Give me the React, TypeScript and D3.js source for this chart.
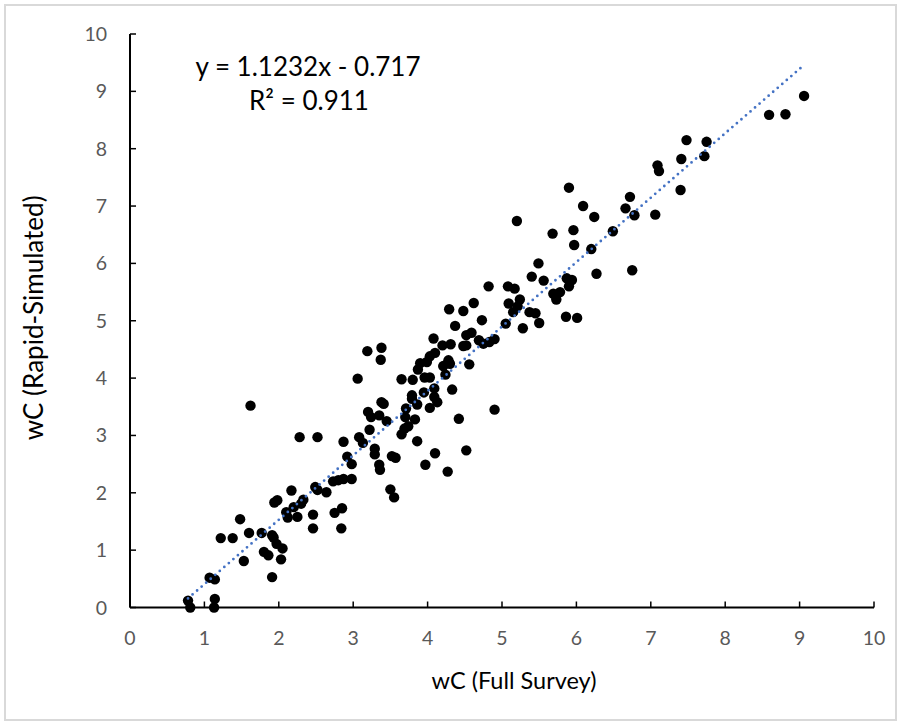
import React from "react";
import * as d3 from "d3";

const fullSurvey: number[] = [
  1.62, 2.28, 2.52, 2.87, 2.92, 2.98, 2.73, 2.8, 2.87, 2.98, 2.85, 2.75, 2.84, 2.46, 2.46,
  2.64, 2.52, 2.49, 2.33, 2.3, 2.2, 2.17, 2.1, 2.12, 2.25, 1.98, 1.94, 1.91, 1.93, 1.97,
  2.05, 2.03, 1.86, 1.8, 1.77, 1.6, 1.91, 1.53, 1.48, 1.38, 1.22, 1.07, 1.14, 0.78, 0.81,
  1.14, 1.13,
  4.62, 4.29, 4.48, 4.37, 4.52, 4.59, 4.69, 4.08, 4.2, 4.31, 4.48, 4.52, 4.56, 4.1, 4.03,
  3.99, 3.9, 3.87, 4.21, 4.28, 4.3, 4.24, 3.19, 3.38, 3.37, 3.06, 3.65, 3.8, 3.96, 4.03,
  4.33, 4.09, 3.95, 3.79, 3.79, 3.86, 4.03, 4.13, 4.09, 3.71, 3.7, 3.83, 3.74, 3.69, 3.65,
  3.41, 3.38, 3.2, 3.24, 3.35, 3.45, 3.22, 3.08, 3.13, 3.29, 3.29, 3.52, 3.57, 3.86, 4.42,
  4.1, 4.52, 3.97, 4.27, 3.35, 3.36, 4.9, 3.5, 3.55,
  5.9, 6.09, 6.24, 5.2, 5.68, 5.96, 5.97, 6.2, 6.49, 5.49, 5.4, 5.56, 5.87, 5.94, 5.9,
  6.27, 4.82, 5.08, 5.17, 5.69, 5.78, 5.73, 5.09, 5.24, 5.21, 5.15, 5.37, 5.45, 5.5, 5.28,
  5.86, 6.01, 5.05, 4.73, 4.75, 4.83, 4.9,
  9.06, 8.59, 8.81, 7.48, 7.75, 7.72, 7.41, 7.09, 7.11, 7.4, 6.72, 6.66, 6.78, 7.06, 6.75,
];

const rapidSimulated: number[] = [
  3.52, 2.97, 2.97, 2.89, 2.63, 2.5, 2.2, 2.22, 2.24, 2.24, 1.73, 1.65, 1.38, 1.62, 1.38,
  2.01, 2.05, 2.1, 1.88, 1.81, 1.75, 2.04, 1.66, 1.57, 1.58, 1.87, 1.83, 1.26, 1.22, 1.11,
  1.03, 0.84, 0.91, 0.97, 1.3, 1.3, 0.53, 0.81, 1.54, 1.21, 1.21, 0.52, 0.49, 0.12, 0.0,
  0.15, 0.0,
  5.31, 5.2, 5.17, 4.91, 4.75, 4.79, 4.66, 4.69, 4.57, 4.59, 4.56, 4.57, 4.24, 4.44, 4.38,
  4.28, 4.26, 4.15, 4.21, 4.31, 4.25, 4.06, 4.47, 4.53, 4.32, 3.99, 3.98, 3.97, 4.01, 4.01,
  3.8, 3.82, 3.75, 3.7, 3.64, 3.54, 3.48, 3.58, 3.67, 3.47, 3.32, 3.28, 3.16, 3.12, 3.02,
  3.55, 3.58, 3.41, 3.32, 3.35, 3.25, 3.1, 2.97, 2.87, 2.77, 2.67, 2.64, 2.61, 2.9, 3.29,
  2.69, 2.74, 2.49, 2.37, 2.49, 2.4, 3.45, 2.06, 1.92,
  7.32, 7.0, 6.81, 6.74, 6.52, 6.58, 6.32, 6.25, 6.56, 6.0, 5.77, 5.7, 5.74, 5.71, 5.6,
  5.82, 5.6, 5.6, 5.56, 5.47, 5.5, 5.37, 5.3, 5.37, 5.25, 5.15, 5.15, 5.13, 4.96, 4.87,
  5.07, 5.05, 4.95, 5.01, 4.6, 4.63, 4.68,
  8.92, 8.59, 8.6, 8.15, 8.12, 7.87, 7.82, 7.71, 7.61, 7.28, 7.16, 6.96, 6.84, 6.85, 5.88,
];

const xTicks: number[] = [0, 1, 2, 3, 4, 5, 6, 7, 8, 9, 10];
const yTicks: number[] = [0, 1, 2, 3, 4, 5, 6, 7, 8, 9, 10];
const slope = 1.1232;
const intercept = -0.717;
const equationText = "y = 1.1232x - 0.717";
const r2Text = "R² = 0.911";
const xTitle = "wC (Full Survey)";
const yTitle = "wC (Rapid-Simulated)";

export default function App() {
  const W = 902;
  const H = 726;
  const x = d3.scaleLinear().domain([0, 10]).range([130, 874]);
  const y = d3.scaleLinear().domain([0, 10]).range([607.5, 34]);
  const points = fullSurvey.map((v, i) => [v, rapidSimulated[i]] as [number, number]);
  const xmin = d3.min(fullSurvey) as number;
  const xmax = d3.max(fullSurvey) as number;
  const line = d3
    .line<number>()
    .x((d) => x(d))
    .y((d) => y(slope * d + intercept));
  const font = "Lato, 'Open Sans', sans-serif";
  return (
    <svg
      width={W}
      height={H}
      style={{ position: "absolute", left: 0, top: 0, background: "#fff" }}
    >
      <rect x={5} y={5} width={891} height={715} fill="#fff" stroke="#d9d9d9" strokeWidth={2} />
      {points.map((p, i) => (
        <circle key={i} cx={x(p[0])} cy={y(p[1])} r={5.2} fill="#000" />
      ))}
      <path
        d={line([xmin, xmax]) || ""}
        fill="none"
        stroke="#4472C4"
        strokeWidth={2.8}
        strokeDasharray="0 6"
        strokeLinecap="round"
      />
      <line x1={x(0)} x2={x(10)} y1={y(0)} y2={y(0)} stroke="#000" strokeWidth={2} />
      <line x1={x(0)} x2={x(0)} y1={y(0)} y2={y(10)} stroke="#000" strokeWidth={2} />
      {xTicks.map((t) => (
        <g key={"x" + t}>
          <line x1={x(t)} x2={x(t)} y1={y(0)} y2={y(0) - 6} stroke="#000" strokeWidth={1.5} />
          <text
            x={x(t)}
            y={645}
            textAnchor="middle"
            fontFamily={font}
            fontSize={19.5}
            fill="#595959"
          >
            {t}
          </text>
        </g>
      ))}
      {yTicks.map((t) => (
        <g key={"y" + t}>
          <line x1={x(0)} x2={x(0) + 6} y1={y(t)} y2={y(t)} stroke="#000" strokeWidth={1.5} />
          <text
            x={107}
            y={y(t) + 7}
            textAnchor="end"
            fontFamily={font}
            fontSize={19.5}
            fill="#595959"
          >
            {t}
          </text>
        </g>
      ))}
      <text x={514} y={689} textAnchor="middle" fontFamily={font} fontSize={23.5} fill="#000">
        {xTitle}
      </text>
      <text
        transform={`translate(43,${y(5.05)}) rotate(-90)`}
        textAnchor="middle"
        fontFamily={font}
        fontSize={26}
        fill="#000"
      >
        {yTitle}
      </text>
      <text x={308} y={76} textAnchor="middle" fontFamily={font} fontSize={26} fill="#000">
        {equationText}
      </text>
      <text x={309} y={110} textAnchor="middle" fontFamily={font} fontSize={26} fill="#000">
        {r2Text}
      </text>
    </svg>
  );
}
